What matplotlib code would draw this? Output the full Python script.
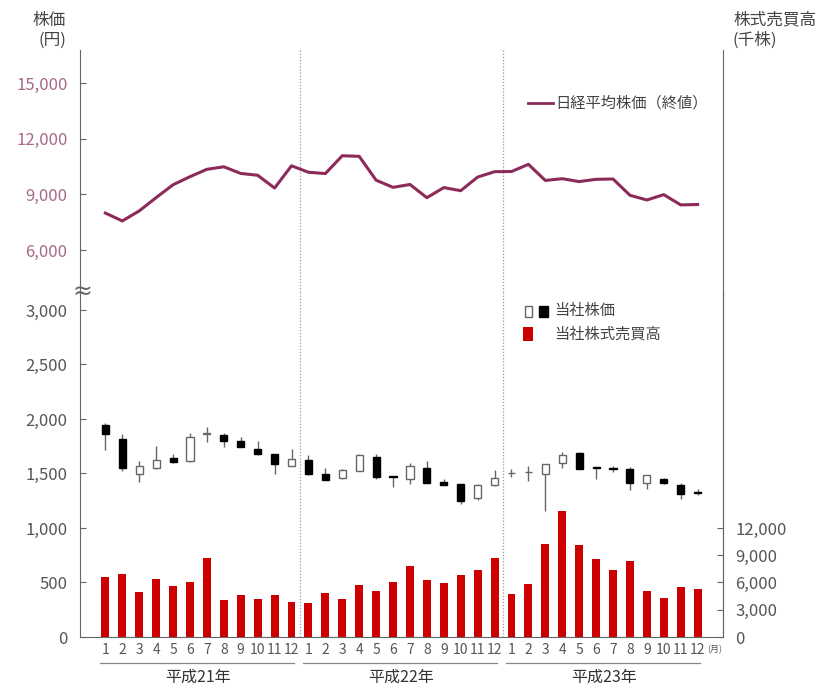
import matplotlib
matplotlib.use("Agg")
import matplotlib.pyplot as plt
from matplotlib.patches import Rectangle
from matplotlib.lines import Line2D
from matplotlib.ticker import FuncFormatter

plt.rcParams['font.family'] = ['Noto Sans CJK JP', 'DejaVu Sans']

# 月 (1..36 = 平成21年1月 .. 平成23年12月)
meses = list(range(1, 37))
etiquetas_mes = [str(m) for m in range(1, 13)] * 3
anios = ["平成21年", "平成22年", "平成23年"]

# 日経平均株価 (終値)
nikkei = [7994, 7568, 8109, 8828, 9522, 9958, 10356, 10492, 10133, 10034, 9345, 10546,
          10198, 10126, 11089, 11057, 9768, 9382, 9537, 8824, 9369, 9202, 9937, 10228,
          10237, 10624, 9755, 9849, 9693, 9816, 9833, 8955, 8700, 8988, 8434, 8455]

# 当社株価 (始値, 高値, 安値, 終値)
apertura = [1944, 1821, 1492, 1550, 1646, 1612, 1860, 1851, 1802, 1729, 1676, 1569,
            1624, 1492, 1455, 1522, 1655, 1478, 1446, 1554, 1425, 1400, 1277, 1391,
            1500, 1510, 1492, 1593, 1685, 1556, 1545, 1538, 1416, 1446, 1391, 1330]
maximo = [1960, 1860, 1615, 1753, 1683, 1876, 1931, 1870, 1839, 1799, 1680, 1729,
          1667, 1554, 1545, 1680, 1683, 1480, 1593, 1612, 1453, 1405, 1400, 1532,
          1538, 1569, 1590, 1701, 1700, 1558, 1569, 1560, 1490, 1460, 1409, 1360]
minimo = [1720, 1522, 1425, 1545, 1600, 1610, 1790, 1747, 1740, 1670, 1492, 1565,
          1490, 1440, 1445, 1520, 1446, 1379, 1400, 1410, 1390, 1216, 1255, 1385,
          1471, 1430, 1154, 1554, 1540, 1446, 1510, 1348, 1360, 1400, 1268, 1300]
cierre = [1865, 1554, 1572, 1624, 1605, 1839, 1876, 1799, 1743, 1676, 1591, 1630,
          1495, 1443, 1532, 1667, 1471, 1470, 1569, 1416, 1394, 1246, 1391, 1462,
          1505, 1516, 1584, 1667, 1545, 1550, 1540, 1416, 1483, 1409, 1308, 1325]

# 当社株式売買高 (千株)
volumen = [6580, 6980, 4910, 6360, 5640, 6080, 8700, 4110, 4660, 4220, 4620, 3890,
           3740, 4880, 4220, 5750, 5050, 6080, 7820, 6330, 5920, 6870, 7340, 8650,
           4690, 5860, 10220, 13820, 10110, 8620, 7420, 8370, 5090, 4330, 5490, 5310]

W, H = 820, 688
def fx(px):
    return px / W
def fy(py):
    return 1 - py / H

gris = "#666666"
gris_txt = "#555555"
rojo = "#CC0000"
granate = "#8C2B5A"
rosa = "#A8688A"

fig = plt.figure(figsize=(8.2, 6.88), dpi=100)
ax_top = fig.add_axes([fx(80), fy(292), fx(723) - fx(80), fy(50) - fy(292)])
ax_bot = fig.add_axes([fx(80), fy(637), fx(723) - fx(80), fy(292) - fy(637)])
ax_vol = ax_bot.twinx()

fmt = FuncFormatter(lambda v, p: "{:,}".format(int(v)))

# --- panel superior: Nikkei
ax_top.plot(meses, nikkei, color=granate, lw=2.2, zorder=3)
ax_top.set_xlim(-0.5, 37.5)
ax_top.set_ylim(3730, 16800)
ax_top.set_yticks([6000, 9000, 12000, 15000])
ax_top.yaxis.set_major_formatter(fmt)
ax_top.set_xticks([])
for s in ["top", "bottom"]:
    ax_top.spines[s].set_visible(False)
for s in ["left", "right"]:
    ax_top.spines[s].set_color(gris)
ax_top.tick_params(axis="y", direction="in", length=4, color=gris, labelsize=12,
                   labelcolor=rosa, pad=9)

# --- panel inferior: velas
ax_bot.set_xlim(-0.5, 37.5)
ax_bot.set_ylim(0, 3165)
ax_bot.set_yticks([0, 500, 1000, 1500, 2000, 2500, 3000])
ax_bot.yaxis.set_major_formatter(fmt)
ax_bot.spines["top"].set_visible(False)
for s in ["left", "right", "bottom"]:
    ax_bot.spines[s].set_color(gris)
ax_bot.tick_params(axis="y", direction="in", length=4, color=gris, labelsize=12,
                   labelcolor=gris_txt, pad=9)
ax_bot.set_xticks(meses)
ax_bot.set_xticklabels(etiquetas_mes)
ax_bot.tick_params(axis="x", length=0, labelsize=10, labelcolor=gris_txt, pad=4)

for x, o, h, l, c in zip(meses, apertura, maximo, minimo, cierre):
    ax_bot.vlines(x, l, h, color=gris, lw=1, zorder=2)
    alto = max(abs(c - o), 6)
    if c >= o:
        ax_bot.bar(x, alto, bottom=min(o, c), width=0.42, color="white",
                   edgecolor=gris, lw=1, zorder=3)
    else:
        ax_bot.bar(x, alto, bottom=min(o, c), width=0.42, color="black",
                   edgecolor="black", lw=1, zorder=3)

# --- volumen (eje derecho)
ax_vol.bar(meses, volumen, width=0.47, color=rojo, zorder=3)
ax_vol.set_ylim(0, 3165 * 12)
ax_vol.set_yticks([0, 3000, 6000, 9000, 12000])
ax_vol.yaxis.set_major_formatter(fmt)
ax_vol.spines["top"].set_visible(False)
ax_vol.spines["left"].set_visible(False)
ax_vol.spines["bottom"].set_visible(False)
ax_vol.spines["right"].set_color(gris)
ax_vol.tick_params(axis="y", direction="in", length=4, color=gris, labelsize=12,
                   labelcolor=gris_txt, pad=9)

# separadores de año
for ax in (ax_top, ax_bot):
    for xv in (12.5, 24.5):
        ax.axvline(xv, color="#999999", lw=0.9, ls=(0, (1, 1.5)), zorder=1)

# años debajo del eje
trans = ax_bot.get_xaxis_transform()
for i, nombre in enumerate(anios):
    x0 = i * 12 + 1
    ax_bot.add_line(Line2D([x0 - 0.3, x0 + 11 + 0.15], [-0.075, -0.075],
                           transform=trans, color="#888888", lw=0.9, clip_on=False))
    ax_bot.text(x0 + 5.5, -0.118, nombre, transform=trans, ha="center", va="center",
                fontsize=11.5, color="#333333")
ax_bot.text(37.0, -0.038, "(月)", transform=trans, ha="center", va="center",
            fontsize=6.5, color=gris_txt)

# títulos de ejes
fig.text(fx(66), fy(20), "株価", ha="right", va="center", fontsize=12, color="#444444")
fig.text(fx(66), fy(40), "(円)", ha="right", va="center", fontsize=12, color="#444444")
fig.text(fx(733), fy(20), "株式売買高", ha="left", va="center", fontsize=12, color="#444444")
fig.text(fx(733), fy(40), "(千株)", ha="left", va="center", fontsize=12, color="#444444")

# símbolo de corte
fig.text(fx(82), fy(292), "≈", ha="center", va="center", fontsize=17, color=gris,
         family=["DejaVu Sans"])

# leyendas
fig.add_artist(Line2D([fx(528), fx(553)], [fy(103), fy(103)], color=granate, lw=2))
fig.text(fx(555), fy(103), "日経平均株価（終値）", ha="left", va="center", fontsize=11,
         color="#444444")
fig.add_artist(Rectangle((fx(525), fy(317)), fx(532) - fx(525), fy(306) - fy(317),
                         transform=fig.transFigure, facecolor="white", edgecolor=gris, lw=1))
fig.add_artist(Rectangle((fx(539), fy(317)), fx(548) - fx(539), fy(306) - fy(317),
                         transform=fig.transFigure, facecolor="black", edgecolor="black", lw=1))
fig.text(fx(554), fy(311), "当社株価", ha="left", va="center", fontsize=11, color="#444444")
fig.add_artist(Rectangle((fx(523), fy(341)), fx(533) - fx(523), fy(327) - fy(341),
                         transform=fig.transFigure, facecolor=rojo, edgecolor="none"))
fig.text(fx(554), fy(334), "当社株式売買高", ha="left", va="center", fontsize=11,
         color="#444444")

fig.savefig("out.png", dpi=100)
